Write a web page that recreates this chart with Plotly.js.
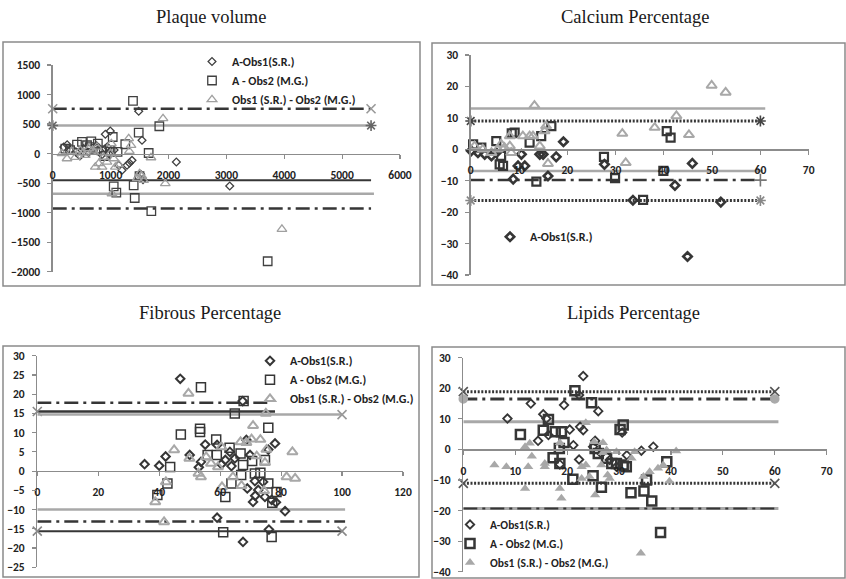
<!DOCTYPE html>
<html><head><meta charset="utf-8">
<script src="https://cdn.plot.ly/plotly-3.0.1.min.js"></script>
<style>html,body{margin:0;padding:0;background:#fff}#chart{width:846px;height:579px}</style>
</head><body><div id="chart"></div>
<script>
// ---------------- DATA ----------------
const panelTitles = ["Plaque volume", "Calcium Percentage", "Fibrous Percentage", "Lipids Percentage"];
const seriesNames = ["A-Obs1(S.R.)", "A - Obs2 (M.G.)", "Obs1 (S.R.) - Obs2 (M.G.)"];

// Plaque volume
const pvObs1X = [1486, 3058, 2136, 1543, 995, 909, 1370, 1324, 1284, 190, 304, 535, 679, 909, 967, 1140, 1197, 1480, 1520, 1560, 944, 250, 400, 760, 850, 620, 1060, 470];
const pvObs1Y = [717, -549, -142, 225, 383, 327, -114, -159, -198, 112, 56, 85, 56, 85, 0, -198, -283, -400, -350, -440, 113, 150, 30, 130, -20, 20, 60, -40];
const pvObs2X = [1387, 1842, 1486, 1037, 1254, 1658, 1054, 1099, 1399, 1417, 1704, 3714, 218, 420, 506, 667, 840, 909, 736, 593, 300, 1120, 1500, 1000, 780, 640];
const pvObs2Y = [892, 463, 356, 281, 158, 10, -554, -661, -537, -752, -973, -1823, 85, 152, 197, 208, 56, -41, 85, 141, 60, 30, -380, 30, 170, 110];
const pvDiffX = [1906, 1945, 3960, 1313, 1353, 1324, 1698, 1024, 161, 247, 391, 477, 563, 622, 708, 765, 795, 852, 938, 995, 1054, 1082, 1140, 1013, 736, 1460, 1500, 1540, 1570, 330, 520, 690, 880];
const pvDiffY = [593, -508, -1280, 254, 141, 39, -68, -678, 0, -85, -63, 56, -29, 85, 27, 112, -169, -227, -142, 0, -85, -227, -186, 169, -227, -420, -340, -380, -450, 40, 10, 60, -60];
const pvLineY = [760, 475, -450, -680, -930];
const pvLineStart = [0, 0, 0, 0, 0];
const pvLineEnd = [5500, 5500, 5500, 5550, 5500];

// Calcium percentage
const caObs1X = [44.9, 45.9, 42.3, 51.8, 33.6, 19.2, 17.7, 10.5, 9.8, 11.2, 8.8, 16.0, 27.7, 14.3, 15.0, 0.1, 1.5, 2.9, 4.3, 5.3];
const caObs1Y = [-34.1, -4.5, -11.5, -16.8, -16.2, 2.4, -2.4, -1.6, -5.3, -5.3, -9.5, -8.5, -4.8, -1.6, -1.6, -0.5, -1.1, -1.6, -2.1, -1.1];
const caObs2X = [40.6, 41.4, 27.6, 29.9, 35.7, 13.6, 6.0, 6.7, 9.1, 12.2, 16.7, 14.6, 0.5, 2.2, 5.3, 6.3, 39.9, 8.5];
const caObs2Y = [5.8, 3.7, -2.4, -9.2, -16.1, -10.3, -4.8, -5.3, 5.3, 2.1, 7.4, 4.2, 1.6, 0.5, 2.6, -2.1, -6.9, 5.1];
const caDiffX = [49.9, 52.8, 13.2, 42.6, 38.1, 31.4, 45.2, 32.1, 10.8, 12.2, 12.9, 8.1, 15.3, 15.6, 14.3, 16.0, 0.8, 2.5, 4.3, 5.6, 6.3, 7.0, 8.1, 8.4];
const caDiffY = [20.3, 18.1, 13.9, 10.6, 6.9, 5.0, 4.6, -4.3, 4.2, 4.2, 4.2, 4.2, 5.8, 7.4, 1.0, -4.6, 1.0, 0, -1.1, 0, 1.6, 0.5, 1.0, -1.1];
const caLineY = [13.0, 9.0, -6.9, -9.8, -16.3];
const caLineStart = [0, 0, 0, 0, 0];
const caLineEnd = [61, 60, 60.5, 60, 60];

// Fibrous percentage
const fiObs1X = [46.9, 67.5, 59.0, 76.0, 81.3, 78.0, 35.2, 40.0, 42.1, 50.0, 55.1, 53.7, 53.0, 59.0, 60.4, 63.7, 63.2, 68.6, 69.8, 71.4, 70.8, 71.5, 68.9, 72.5, 74.1, 75.8, 74.7, 76.9, 78.3, 64.8, 61.7, 67.4];
const fiObs1Y = [24.0, -18.4, -12.1, -15.2, -10.4, 7.2, 1.8, 1.4, 3.8, 4.2, 6.9, 2.4, 1.0, 6.8, 1.8, 1.3, 5.0, 8.1, 4.2, -2.6, -8.0, -6.4, -4.5, -4.9, -2.8, 5.6, -6.7, -7.5, -8.1, 3.3, 2.9, 18.2];
const fiObs2X = [53.7, 47.1, 53.4, 53.4, 58.7, 58.9, 55.9, 43.6, 42.7, 39.4, 61.7, 61.0, 76.9, 77.1, 78.5, 75.8, 64.8, 67.7, 63.1, 66.7, 67.5, 70.5, 71.4, 73.2, 74.7, 75.8, 66.9, 63.7];
const fiObs2Y = [21.8, 9.5, 10.2, 11.0, 8.2, 4.2, 4.2, 1.1, -3.2, -6.2, -6.7, -15.9, -17.1, -8.2, -5.4, 11.3, 15.0, 18.2, 6.1, 4.6, 1.6, 2.6, -0.6, -0.4, 2.9, -3.2, -1.0, -3.2];
const fiDiffX = [49.6, 44.9, 49.9, 42.2, 38.7, 41.6, 52.9, 53.7, 55.4, 60.4, 60.6, 70.8, 70.3, 73.2, 75.0, 75.2, 74.7, 74.4, 66.7, 68.6, 67.0, 64.2, 81.8, 84.6, 83.7, 72.0, 59.3, 57.0];
const fiDiffY = [20.2, 5.5, 3.3, -2.8, -8.0, -13.2, -0.6, -1.5, 3.7, 6.3, -4.1, 11.8, 8.3, 8.2, 15.0, 5.6, 2.2, -5.1, 7.6, 7.4, -3.8, -1.5, -1.5, -1.9, 5.0, 3.9, 1.1, 2.0];
const fiLineY = [17.8, 15.5, 14.7, -10.0, -13.1, -15.6];
const fiLineStart = [0, 0, 0, 0, 0, 0];
const fiLineEnd = [77, 78, 100, 101, 101, 100];

// Lipids percentage
const liObs1X = [23.1, 8.5, 13.0, 15.4, 16.0, 19.4, 22.3, 22.5, 23.1, 26.0, 20.5, 21.2, 14.4, 16.4, 18.6, 22.3, 30.6, 31.5, 34.3, 36.6, 25.4, 25.0, 26.6, 28.2, 29.5];
const liObs1Y = [24.0, 10.1, 15.0, 11.5, 10.1, 14.5, 17.8, 7.4, 6.3, 12.5, 6.5, 1.4, 2.8, 4.7, -4.9, -3.3, 5.5, -1.9, -0.4, 0.9, 2.8, 0.9, -1.3, -3.5, -5.7];
const liObs2X = [21.5, 24.7, 11.0, 15.4, 16.4, 17.7, 18.9, 19.4, 17.3, 18.5, 21.1, 25.0, 26.6, 32.3, 34.8, 36.3, 38.0, 39.2, 30.8, 30.2, 29.5, 30.8, 25.4, 26.0, 27.6, 28.6, 31.4, 35.3, 18.6];
const liObs2Y = [19.2, 15.3, 4.9, 6.3, 9.8, 5.8, 5.8, 2.3, -2.7, 0.3, -9.8, -8.6, -12.4, -14.2, -13.6, -16.9, -27.2, -4.0, 8.0, 6.5, -4.6, -5.1, 0.3, -1.3, -2.9, -4.6, -5.7, -10.0, -4.6];
const liDiffX = [6.0, 8.3, 12.5, 13.2, 15.7, 15.7, 11.9, 18.6, 18.9, 11.9, 12.8, 18.6, 22.8, 23.6, 22.8, 24.3, 25.4, 23.6, 25.2, 26.9, 26.6, 27.8, 28.2, 29.5, 32.4, 33.0, 34.2, 34.7, 35.9, 37.5, 38.5, 39.7, 41.0, 26.9, 27.6];
const liDiffY = [-5.1, -5.7, -5.7, -2.2, -4.6, -5.7, -12.8, -12.8, -16.0, 0.9, 2.0, 2.2, -5.7, -5.1, -9.5, -8.9, -14.9, 8.7, 2.5, 2.2, -5.1, -8.4, -9.5, -0.8, -2.9, -0.8, -34.0, -8.9, -7.3, -6.2, -5.1, -10.4, -0.5, -1.1, -0.2];
const liLineY = [18.9, 16.5, 9.05, -11.1, -19.3, -19.3];
const liLineStart = [0, 0, 0, 0, 0, 0];
const liLineEnd = [60, 60, 60.7, 60, 60.7, 60];

// axis ranges / tick steps
const xRanges = [[0, 6000], [0, 70], [0, 120], [0, 70]];
const yRanges = [[-2000, 1500], [-40, 30], [-25, 30], [-40, 30]];
const xSteps = [1000, 10, 20, 10];
const ySteps = [500, 10, 5, 10];

// ---------------- STYLE / LAYOUT ----------------
const W = 846, H = 579;
const DARK = '#363636', GRAY = '#a8a8a8', AXIS = '#8c8c8c', TXT = '#222222';
const SANS = "Carlito, 'Liberation Sans Narrow', 'Liberation Sans', Arial, sans-serif";
const SERIF = "'Liberation Serif', 'Times New Roman', serif";

// plot boxes in pixels [left, right, top, bottom]
const boxes = [[52.7, 400, 65, 271.7], [470.7, 808.7, 55, 275], [37.3, 403, 355.7, 567.3], [463.3, 826.7, 357.7, 571.7]];
const frames = [[3, 42, 420, 286], [432, 43, 845, 285], [3, 346, 419, 577], [432, 347, 845, 578]];
const titlePos = [[211, 17], [635, 17], [210, 313], [633, 313]];

const DD = '14px,5px,3px,5px';   // excel long dash-dot
const DOT = '2px,1.6px';

// line styles per panel
const lineStyles = [
  [ {c: DARK, w: 2.5, d: DD, m: 'x-thin-open', mc: '#999', ends: [1, 1]},
    {c: GRAY, w: 2.5, d: 'solid', m: 'asterisk-open', mc: '#666', ends: [1, 1]},
    {c: DARK, w: 2, d: 'solid'},
    {c: GRAY, w: 2.5, d: 'solid'},
    {c: DARK, w: 2.5, d: DD} ],
  [ {c: GRAY, w: 2.5, d: 'solid'},
    {c: DARK, w: 3, d: DOT, m: 'asterisk-open', mc: '#444', ends: [1, 1]},
    {c: GRAY, w: 2.5, d: 'solid'},
    {c: DARK, w: 2.5, d: DD, m: 'cross-thin-open', mc: '#777', ends: [0, 1]},
    {c: DARK, w: 3, d: DOT, m: 'asterisk-open', mc: '#888', ends: [1, 1]} ],
  [ {c: DARK, w: 2.5, d: DD},
    {c: DARK, w: 2.5, d: 'solid', m: 'x-thin-open', mc: '#888', ends: [1, 0]},
    {c: GRAY, w: 2.5, d: 'solid', m: 'x-thin-open', mc: '#999', ends: [0, 1]},
    {c: GRAY, w: 2.5, d: 'solid'},
    {c: DARK, w: 2.5, d: DD},
    {c: DARK, w: 2, d: 'solid', m: 'x-thin-open', mc: '#888', ends: [1, 1]} ],
  [ {c: DARK, w: 3, d: DOT, m: 'x-thin-open', mc: '#555', ends: [1, 1]},
    {c: DARK, w: 3, d: DD, m: 'circle', mc: '#aaa', ends: [1, 1]},
    {c: GRAY, w: 3, d: 'solid'},
    {c: DARK, w: 3, d: DOT, m: 'x-thin-open', mc: '#555', ends: [1, 1]},
    {c: GRAY, w: 3, d: 'solid'},
    {c: DARK, w: 2, d: DD} ]
];

const markerStyles = [
  [ {s: 'diamond-open', size: 6, lw: 1.3, c: '#404040'}, {s: 'square-open', size: 8.5, lw: 1.3, c: '#404040'}, {s: 'triangle-up-open', size: 8.5, lw: 1.3, c: '#a0a0a0'} ],
  [ {s: 'diamond-open', size: 6.5, lw: 2.6, c: DARK}, {s: 'square-open', size: 8, lw: 2.2, c: DARK}, {s: 'triangle-up-open', size: 9, lw: 2, c: GRAY} ],
  [ {s: 'diamond-open', size: 6.5, lw: 2, c: DARK}, {s: 'square-open', size: 9, lw: 1.5, c: DARK}, {s: 'triangle-up-open', size: 9, lw: 2, c: GRAY} ],
  [ {s: 'diamond-open', size: 6.5, lw: 1.8, c: DARK}, {s: 'square-open', size: 9, lw: 2.5, c: DARK}, {s: 'triangle-up', size: 9, lw: 0, c: GRAY} ]
];

const panelSeries = [
  [[pvObs1X, pvObs1Y], [pvObs2X, pvObs2Y], [pvDiffX, pvDiffY]],
  [[caObs1X, caObs1Y], [caObs2X, caObs2Y], [caDiffX, caDiffY]],
  [[fiObs1X, fiObs1Y], [fiObs2X, fiObs2Y], [fiDiffX, fiDiffY]],
  [[liObs1X, liObs1Y], [liObs2X, liObs2Y], [liDiffX, liDiffY]]
];
const panelLines = [
  [pvLineY, pvLineStart, pvLineEnd],
  [caLineY, caLineStart, caLineEnd],
  [fiLineY, fiLineStart, fiLineEnd],
  [liLineY, liLineStart, liLineEnd]
];
// which series appear in each panel's legend
const legendShown = [[1, 1, 1], [1, 0, 0], [1, 1, 1], [1, 1, 1]];
// legend: [text-left px, first item centre px, font size]
const legendPos = [[232, 59, 12], [530, 234.3, 12], [290, 358.3, 12], [490, 522, 11.5]];

const traces = [];
const layout = {
  width: W, height: H, margin: {l: 0, r: 0, t: 0, b: 0},
  paper_bgcolor: '#fff', plot_bgcolor: 'rgba(0,0,0,0)',
  showlegend: true, annotations: [], shapes: []
};

for (let p = 0; p < 4; p++) {
  const sfx = p === 0 ? '' : String(p + 1);
  const xa = 'x' + sfx, ya = 'y' + sfx;
  const [l, r, t, b] = boxes[p];
  const yd = [1 - b / H, 1 - t / H];
  const yr = yRanges[p];
  const zeroFrac = (0 - yr[0]) / (yr[1] - yr[0]);
  layout['xaxis' + sfx] = {
    domain: [l / W, r / W], range: xRanges[p], dtick: xSteps[p], tick0: 0,
    anchor: 'free', position: yd[0] + zeroFrac * (yd[1] - yd[0]),
    showline: true, linecolor: AXIS, linewidth: 1.3, ticks: 'outside', ticklen: 4, tickcolor: AXIS, tickwidth: 1.2,
    showgrid: false, zeroline: false, ticklabelstandoff: 6,
    tickfont: {family: SANS, size: 11.5, color: TXT, weight: 'bold'}, fixedrange: true
  };
  layout['yaxis' + sfx] = {
    domain: yd, range: yr, dtick: ySteps[p], tick0: 0, anchor: xa,
    showline: true, linecolor: AXIS, linewidth: 1.3, ticks: 'outside', ticklen: 4, tickcolor: AXIS, tickwidth: 1.2,
    showgrid: false, zeroline: false, ticklabelstandoff: 5,
    tickfont: {family: SANS, size: 11.5, color: TXT, weight: 'bold'}, fixedrange: true
  };

  // horizontal mean / limit lines
  const [ly, ls, le] = panelLines[p];
  ly.forEach((v, i) => {
    const st = lineStyles[p][i];
    const tr = {
      type: 'scatter', x: [ls[i], le[i]], y: [v, v], xaxis: xa, yaxis: ya,
      mode: st.m ? 'lines+markers' : 'lines', showlegend: false, hoverinfo: 'skip', cliponaxis: false,
      line: {color: st.c, width: st.w, dash: st.d}
    };
    if (st.m) {
      tr.marker = {symbol: st.m, size: st.m === 'circle' ? 8 : 9,
        color: st.mc, opacity: st.ends.map(e => e ? 1 : 0), line: {color: st.mc, width: 1.6}};
    }
    traces.push(tr);
  });

  // scatter series
  const legId = p === 0 ? 'legend' : 'legend' + (p + 1);
  panelSeries[p].forEach((s, k) => {
    const ms = markerStyles[p][k];
    traces.push({
      type: 'scatter', mode: 'markers', x: s[0], y: s[1], xaxis: xa, yaxis: ya,
      name: seriesNames[k], legend: legId, showlegend: !!legendShown[p][k], cliponaxis: false,
      marker: {symbol: ms.s, size: ms.size, color: ms.c, line: {color: ms.c, width: ms.lw}}
    });
  });

  const [lx, lyc, lfs] = legendPos[p];
  layout[legId] = {
    x: (lx - 40) / W, y: 1 - (lyc - 12) / H, xanchor: 'left', yanchor: 'top',
    bgcolor: 'rgba(0,0,0,0)', borderwidth: 0, itemwidth: 30, tracegroupgap: 0,
    font: {family: SANS, size: lfs, color: TXT, weight: 'bold'}
  };

  const f = frames[p];
  layout.shapes.push({type: 'rect', xref: 'paper', yref: 'paper',
    x0: f[0] / W, x1: f[2] / W, y0: 1 - f[3] / H, y1: 1 - f[1] / H,
    line: {color: '#8a8a8a', width: 1.5}, fillcolor: 'rgba(0,0,0,0)', layer: 'below'});

  layout.annotations.push({text: panelTitles[p], xref: 'paper', yref: 'paper',
    x: titlePos[p][0] / W, y: 1 - titlePos[p][1] / H, xanchor: 'center', yanchor: 'middle',
    showarrow: false, font: {family: SERIF, size: 18.5, color: '#1a1a1a'}});
}

Plotly.newPlot('chart', traces, layout, {staticPlot: true, displayModeBar: false});
</script>
</body></html>
